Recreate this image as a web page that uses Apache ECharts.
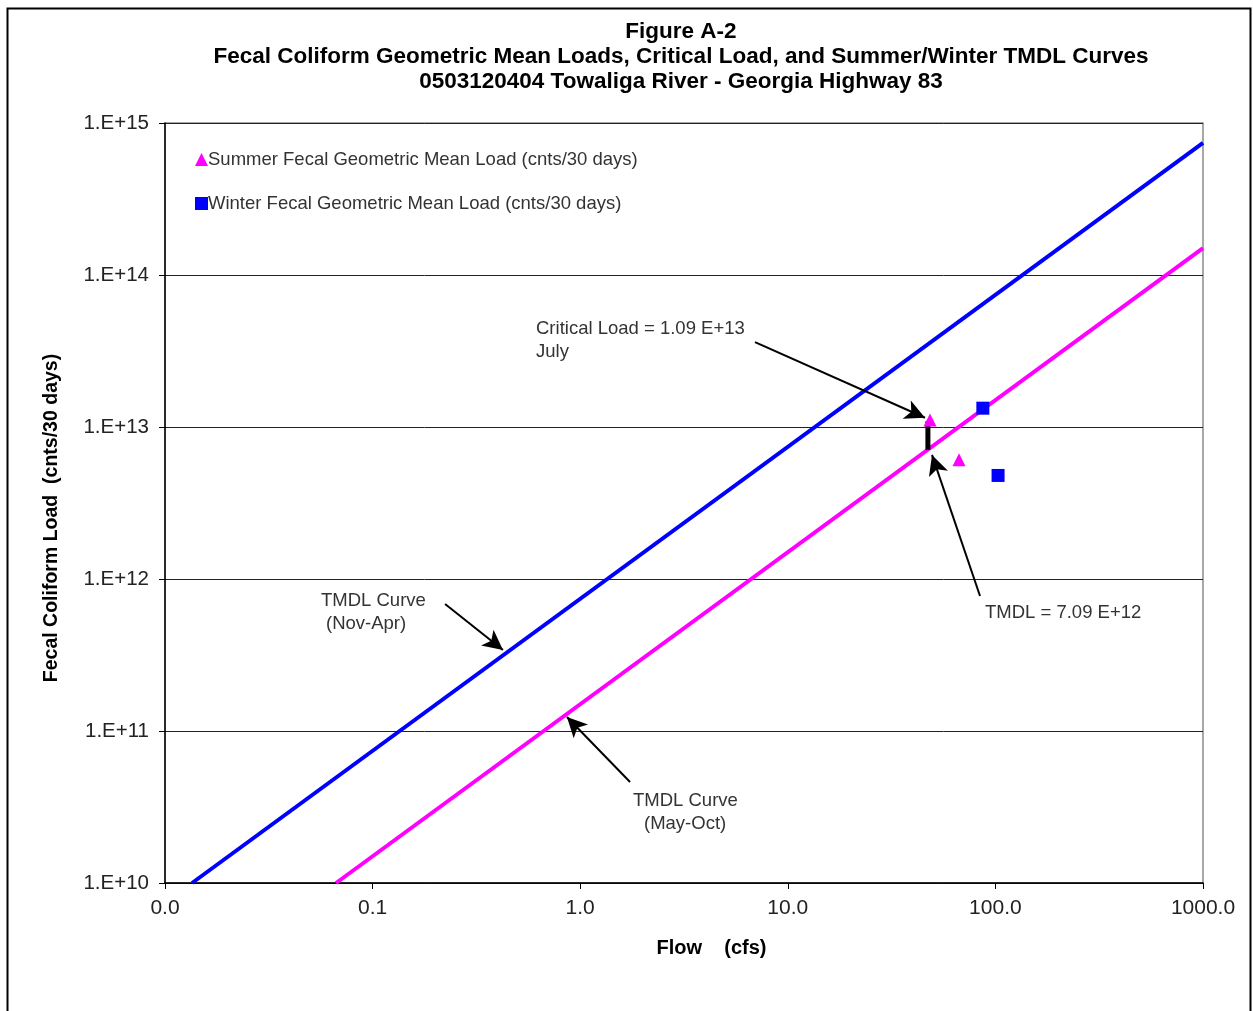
<!DOCTYPE html>
<html>
<head>
<meta charset="utf-8">
<script src="https://cdn.jsdelivr.net/npm/echarts@6/dist/echarts.min.js"></script>
<style>
html,body{margin:0;padding:0;background:#fff;}
#chart{width:1253px;height:1011px;}
</style>
</head>
<body>
<div id="chart"></div>
<script>
// ---- Data ----
const titleLines = [
  'Figure A-2',
  'Fecal Coliform Geometric Mean Loads, Critical Load, and Summer/Winter TMDL Curves',
  '0503120404 Towaliga River - Georgia Highway 83'
];
const xAxisTitle = 'Flow    (cfs)';
const yAxisTitle = 'Fecal Coliform Load  (cnts/30 days)';

// TMDL curves (flow cfs, load cnts/30 days)
const winterCurveFlow = [0.0135, 1000];
const winterCurveLoad = [1.0e10, 7.4e14];
const summerCurveFlow = [0.0667, 1000];
const summerCurveLoad = [1.0e10, 1.5e14];

// Geometric mean loads
const summerFlow = [48.4, 66.8];
const summerLoad = [1.11e13, 6.1e12];
const winterFlow = [87, 103];
const winterLoad = [1.33e13, 4.8e12];

// Critical load vs TMDL segment
const criticalFlow = 47.3;
const criticalLoad = 1.09e13;
const tmdlLoad = 7.09e12;

// Annotation arrows: [fromFlow, fromLoad, toFlow, toLoad]
const arrowCritical = [6.95, 3.62e13, 45.8, 1.15e13];
const arrowTmdl = [84.3, 7.73e11, 49.5, 6.55e12];
const arrowWinterCurve = [0.2234, 6.85e11, 0.4246, 3.41e11];
const arrowSummerCurve = [1.738, 4.62e10, 0.863, 1.236e11];

const legendNames = [
  'Summer Fecal Geometric Mean Load (cnts/30 days)',
  'Winter Fecal Geometric Mean Load (cnts/30 days)'
];

const zip = (a, b) => a.map((v, i) => [v, b[i]]);
const arrowLine = a => [{coord: [a[0], a[1]]}, {coord: [a[2], a[3]]}];

const FONT = '"Liberation Sans", Arial, sans-serif';
const chart = echarts.init(document.getElementById('chart'));

const txt = (text, x, y) => ({
  type: 'text', x: x, y: y,
  style: {text: text, fontFamily: FONT, fontSize: 18.5, fill: '#333', textVerticalAlign: 'middle'}
});
const ttl = (text, y) => ({
  type: 'text', x: 681, y: y,
  style: {text: text, fontFamily: FONT, fontSize: 22.5, fontWeight: 'bold', fill: '#000',
    textAlign: 'center', textVerticalAlign: 'middle'}
});

chart.setOption({
  animation: false,
  backgroundColor: '#fff',
  grid: {left: 165, right: 50, top: 123, bottom: 128, show: true, borderColor: '#8c8c8c', borderWidth: 1.5},
  legend: {
    orient: 'vertical', left: 190, top: 145, itemGap: 25,
    itemWidth: 13, itemHeight: 13,
    textStyle: {fontFamily: FONT, fontSize: 18.5, color: '#333', padding: [0, 0, 0, -5]},
    data: [
      {name: legendNames[0], icon: 'triangle'},
      {name: legendNames[1], icon: 'rect'}
    ]
  },
  xAxis: {
    type: 'log', logBase: 10, min: 0.01, max: 1000,
    name: xAxisTitle, nameLocation: 'middle', nameGap: 55,
    nameTextStyle: {fontFamily: FONT, fontSize: 20, fontWeight: 'bold', color: '#000', padding: [0, 0, 0, 55]},
    axisLine: {lineStyle: {color: '#000', width: 1.5}},
    axisTick: {show: true, length: 6, lineStyle: {color: '#000'}},
    minorTick: {show: false},
    splitLine: {show: false},
    axisLabel: {fontFamily: FONT, fontSize: 21, color: '#222', margin: 15,
      formatter: v => v.toFixed(1)}
  },
  yAxis: {
    type: 'log', logBase: 10, min: 1e10, max: 1e15,
    axisLine: {show: true, lineStyle: {color: '#000', width: 1.5}},
    axisTick: {show: true, length: 6, lineStyle: {color: '#000'}},
    splitLine: {show: true, lineStyle: {color: '#222', width: 1}},
    axisLabel: {fontFamily: FONT, fontSize: 20.5, color: '#222', margin: 16,
      formatter: v => '1.E+' + Math.round(Math.log10(v))}
  },
  series: [
    {
      name: 'TMDL Curve (Nov-Apr)', type: 'line', data: zip(winterCurveFlow, winterCurveLoad),
      showSymbol: false, lineStyle: {color: '#0000ff', width: 4}, itemStyle: {color: '#0000ff'},
      silent: true, z: 2,
      markLine: {
        silent: true, symbol: ['none', 'arrow'], symbolSize: [15, 20],
        lineStyle: {color: '#000', width: 2, type: 'solid'}, label: {show: false},
        data: [arrowLine(arrowCritical), arrowLine(arrowTmdl), arrowLine(arrowWinterCurve), arrowLine(arrowSummerCurve)]
      }
    },
    {
      name: 'TMDL Curve (May-Oct)', type: 'line', data: zip(summerCurveFlow, summerCurveLoad),
      showSymbol: false, lineStyle: {color: '#ff00ff', width: 4}, itemStyle: {color: '#ff00ff'},
      silent: true, z: 2
    },
    {
      name: 'Critical - TMDL', type: 'line', data: [[criticalFlow, criticalLoad], [criticalFlow, tmdlLoad]],
      showSymbol: false, lineStyle: {color: '#000', width: 5}, silent: true, z: 3
    },
    {
      name: legendNames[0], type: 'scatter', data: zip(summerFlow, summerLoad),
      symbol: 'triangle', symbolSize: 13, itemStyle: {color: '#ff00ff', opacity: 1}, z: 4
    },
    {
      name: legendNames[1], type: 'scatter', data: zip(winterFlow, winterLoad),
      symbol: 'rect', symbolSize: 13, itemStyle: {color: '#0000ff', opacity: 1}, z: 4
    }
  ],
  graphic: [
    {type: 'rect', left: 5, top: 6, shape: {width: 1243, height: 1012},
      style: {fill: 'none', stroke: '#000', lineWidth: 2}, silent: true},
    ttl(titleLines[0], 32),
    ttl(titleLines[1], 57),
    ttl(titleLines[2], 82),
    {type: 'text', x: 52, y: 518, rotation: Math.PI / 2,
      style: {text: yAxisTitle, fontFamily: FONT, fontSize: 19.5, fontWeight: 'bold', fill: '#000',
        textAlign: 'center', textVerticalAlign: 'middle'}},
    txt('Critical Load = 1.09 E+13', 536, 329),
    txt('July', 536, 352),
    txt('TMDL Curve', 321, 601),
    txt('(Nov-Apr)', 326, 624),
    txt('TMDL Curve', 633, 801),
    txt('(May-Oct)', 644, 824),
    txt('TMDL = 7.09 E+12', 985, 613)
  ]
});
</script>
</body>
</html>
